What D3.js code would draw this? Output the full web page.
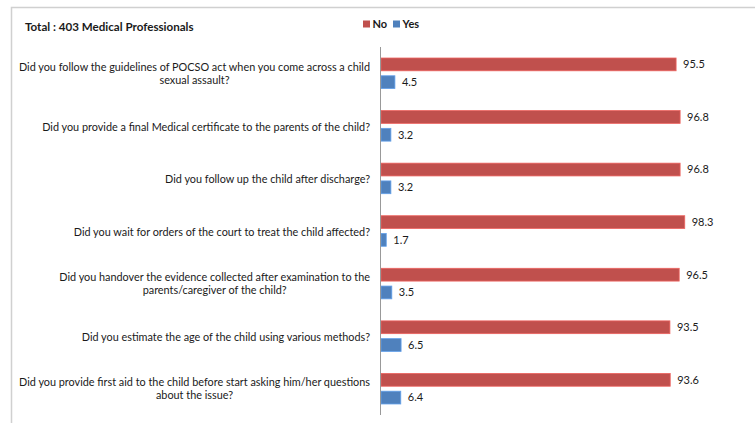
<!DOCTYPE html>
<html>
<head>
<meta charset="utf-8">
<script src="https://cdn.jsdelivr.net/npm/d3@7"></script>
<style>
  body { margin: 0; background: #fff; }
  text { font-family: Lato, "Open Sans", sans-serif; fill: #1a1a1a; }
</style>
</head>
<body>
<svg width="755" height="423"></svg>
<script>
const questions = [
    ['Did you follow the guidelines of POCSO act when you come across a child', 'sexual assault?'],
    ['Did you provide a final Medical certificate to the parents of the child?'],
    ['Did you follow up the child after discharge?'],
    ['Did you wait for orders of the court to treat the child affected?'],
    ['Did you handover the evidence collected after examination to the', 'parents/caregiver of the child?'],
    ['Did you estimate the age of the child using various methods?'],
    ['Did you provide first aid to the child before start asking him/her questions', 'about the issue?']
]
const noValues = [95.5, 96.8, 96.8, 98.3, 96.5, 93.5, 93.6]
const yesValues = [4.5, 3.2, 3.2, 1.7, 3.5, 6.5, 6.4]
const seriesNames = ['No', 'Yes']
const colors = ['#c0504d', '#4f81bd']

const svg = d3.select('svg')

// chart frame
svg.append('path')
    .attr('d', 'M11.5,423 V7.5 H755')
    .attr('fill', 'none')
    .attr('stroke', '#d0d0d0')
    .attr('stroke-width', 1.5)

svg.append('text')
    .attr('x', 25)
    .attr('y', 30.5)
    .attr('font-size', 11.6)
    .attr('font-weight', 'bold')
    .text('Total : 403 Medical Professionals')

const x = d3.scaleLinear().domain([0, 100]).range([381, 690])
const y = d3.scaleBand().domain(d3.range(questions.length)).range([47, 415])
const inner = d3.scaleBand().domain(seriesNames).range([0, y.bandwidth()]).paddingInner(0.28).paddingOuter(0.62)

const groups = svg.selectAll('g.group')
    .data(questions.map((q, i) => ({ q, vals: [noValues[i], yesValues[i]] })))
    .join('g')
    .attr('class', 'group')
    .attr('transform', (d, i) => `translate(0,${y(i)})`)

groups.selectAll('rect')
    .data(d => d.vals.map((v, j) => ({ v, s: seriesNames[j], c: colors[j] })))
    .join('rect')
    .attr('x', x(0))
    .attr('y', d => inner(d.s))
    .attr('width', d => x(d.v) - x(0))
    .attr('height', inner.bandwidth())
    .attr('fill', d => d.c)
    .attr('stroke', d => d3.color(d.c).brighter(0.6))
    .attr('stroke-width', 0.8)

groups.selectAll('text.val')
    .data(d => d.vals.map((v, j) => ({ v, s: seriesNames[j] })))
    .join('text')
    .attr('class', 'val')
    .attr('x', d => x(d.v) + 7)
    .attr('y', d => inner(d.s) + inner.bandwidth() / 2)
    .attr('dy', '0.35em')
    .attr('font-size', 11)
    .text(d => d.v.toFixed(1))

// question labels: right edge of the longest line at 370, lines centred
const labelRight = 370
groups.each(function (d) {
    const g = d3.select(this)
    const t = g.append('text')
        .attr('class', 'q')
        .attr('font-size', 10.85)
    const spans = t.selectAll('tspan')
        .data(d.q)
        .join('tspan')
        .attr('y', (line, k) => d.q.length > 1 ? 24 + k * 13 : 31)
        .text(line => line)
    if (d.q.length > 1) {
        const w = d3.max(spans.nodes(), n => n.getComputedTextLength())
        t.attr('text-anchor', 'middle')
        spans.attr('x', labelRight - w / 2)
    } else {
        t.attr('text-anchor', 'end')
        spans.attr('x', labelRight)
    }
})

// category axis line
svg.append('line')
    .attr('x1', x(0) - 0.5).attr('x2', x(0) - 0.5)
    .attr('y1', 47).attr('y2', 415)
    .attr('stroke', '#999')
    .attr('stroke-width', 1)

// legend
const legend = svg.append('g').attr('transform', 'translate(363,24)')
const lx = [0, 30]
seriesNames.forEach((s, i) => {
    legend.append('rect')
        .attr('x', lx[i]).attr('y', -3.5)
        .attr('width', 7).attr('height', 7)
        .attr('fill', colors[i])
    legend.append('text')
        .attr('x', lx[i] + 9.5).attr('y', 0)
        .attr('dy', '0.35em')
        .attr('font-size', 11)
        .attr('font-weight', 'bold')
        .text(s)
})
</script>
</body>
</html>
